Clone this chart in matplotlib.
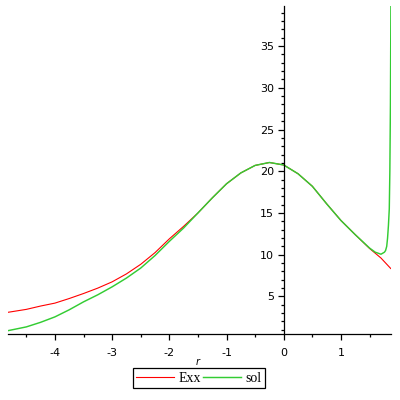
import matplotlib
matplotlib.use("Agg")
import matplotlib.pyplot as plt
from matplotlib.ticker import MultipleLocator

plt.rcParams['axes.unicode_minus'] = False

# Exx curve (red)
exx_x = [-4.82, -4.5, -4.25, -4.0, -3.75, -3.5, -3.25, -3.0, -2.75, -2.5, -2.25, -2.0,
         -1.75, -1.5, -1.25, -1.0, -0.75, -0.5, -0.25, 0.0, 0.25, 0.5, 0.75, 1.0,
         1.25, 1.5, 1.7, 1.87]
exx_y = [3.1, 3.45, 3.85, 4.2, 4.75, 5.35, 6.0, 6.75, 7.7, 8.85, 10.25, 11.9,
         13.4, 15.0, 16.8, 18.5, 19.8, 20.7, 21.05, 20.75, 19.7, 18.2, 16.1, 14.1,
         12.4, 10.75, 9.6, 8.35]

# sol curve (green)
sol_x = [-4.82, -4.5, -4.25, -4.0, -3.75, -3.5, -3.25, -3.0, -2.75, -2.5, -2.25, -2.0,
         -1.75, -1.5, -1.25, -1.0, -0.75, -0.5, -0.25, 0.0, 0.25, 0.5, 0.75, 1.0,
         1.25, 1.5, 1.6, 1.7, 1.76, 1.78, 1.8, 1.815, 1.83, 1.845, 1.855, 1.865, 1.875]
sol_y = [0.9, 1.35, 1.9, 2.55, 3.4, 4.35, 5.2, 6.15, 7.2, 8.4, 9.9, 11.6,
         13.2, 15.0, 16.8, 18.5, 19.8, 20.7, 21.05, 20.75, 19.7, 18.2, 16.1, 14.1,
         12.4, 10.8, 10.3, 10.06, 10.3, 10.5, 11.0, 12.0, 13.5, 15.5, 20.0, 28.0, 42.0]

fig = plt.figure(figsize=(4, 4), dpi=100)
ax = fig.add_axes([0.02, 0.165, 0.9575, 0.82])

ax.plot(exx_x, exx_y, color='#ff0000', lw=0.8, label='Exx')
ax.plot(sol_x, sol_y, color='#33cc33', lw=1.05, label='sol')

ax.set_xlim(-4.82, 1.875)
ax.set_ylim(0.5, 39.8)

ax.spines['top'].set_visible(False)
ax.spines['right'].set_visible(False)
ax.spines['left'].set_position(('data', 0))
for s in ['left', 'bottom']:
    ax.spines[s].set_linewidth(0.9)

ax.xaxis.set_major_locator(MultipleLocator(1))
ax.xaxis.set_minor_locator(MultipleLocator(0.5))
ax.yaxis.set_minor_locator(MultipleLocator(1))
ax.set_yticks([5, 10, 15, 20, 25, 30, 35])
ax.tick_params(which='major', length=4, width=0.9, labelsize=8, direction='out')
ax.tick_params(which='minor', length=2.5, width=0.9, direction='out')
ax.tick_params(axis='x', pad=6)
ax.tick_params(axis='y', pad=3)

fig.text(0.495, 0.095, 'r', fontsize=7, style='italic', ha='center', va='center')

leg = fig.legend(loc='center', bbox_to_anchor=(0.497, 0.055), ncol=2, frameon=True,
                 fancybox=False, edgecolor='black', framealpha=1,
                 prop={'family': 'Liberation Serif', 'size': 10},
                 handlelength=2.7, columnspacing=0.2, handletextpad=0.3,
                 borderpad=0.25, borderaxespad=0)
leg.get_frame().set_linewidth(0.9)

fig.savefig('out.png', dpi=100)
